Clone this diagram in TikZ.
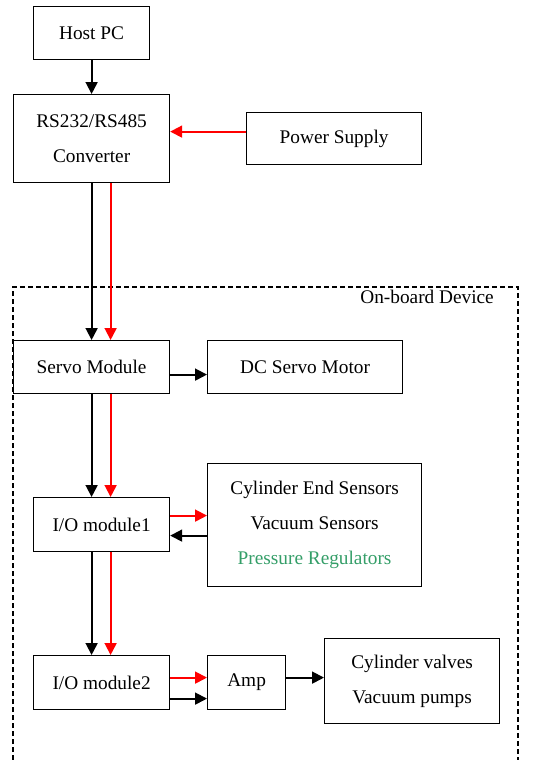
\documentclass[tikz,border=0pt]{standalone}
\usepackage{fontspec}
\setmainfont{Liberation Serif}
\usepackage{tikz}
\usetikzlibrary{arrows.meta}
\usetikzlibrary{calc}
\definecolor{regulgreen}{RGB}{52,158,104}
\tikzstyle{block} = [draw,rectangle,line width=1.2pt,anchor=north west,inner sep=0pt,align=center]
\tikzstyle{connector} = [-{Triangle[length=12pt,width=12pt]},line width=1.8pt]
\tikzstyle{power} = [connector,red]
\tikzstyle{boundary} = [line width=1.2pt,dash pattern=on 5pt off 3pt]

\begin{document}
\begin{tikzpicture}[x=1pt, y=-1pt, font=\fontsize{19.3}{23}\selectfont]
    \useasboundingbox (0,0) rectangle (547,760);
    % blocks, placed by their top left corners
    \node[block,minimum width=116pt,minimum height=53pt] (host) at (33,6) {Host PC};
    \node[block,minimum width=156pt,minimum height=88pt] (conv) at (13,94)
      {RS232/RS485\\[12pt]Converter};
    \node[block,minimum width=175pt,minimum height=52pt] (supply) at (246,112) {Power Supply};
    \node[block,minimum width=156pt,minimum height=53pt] (servo) at (13,340) {Servo Module};
    \node[block,minimum width=195pt,minimum height=53pt] (motor) at (207,340) {DC Servo Motor};
    \node[block,minimum width=136pt,minimum height=54pt] (io1) at (33,497) {I/O module1};
    \node[block,minimum width=214pt,minimum height=123pt] (sensors) at (207,463)
      {Cylinder End Sensors\\[12pt]Vacuum Sensors\\[12pt]\textcolor{regulgreen}{Pressure Regulators}};
    \node[block,minimum width=136pt,minimum height=54pt] (io2) at (33,655) {I/O module2};
    \node[block,minimum width=78pt,minimum height=54pt] (amp) at (207,655) {Amp};
    \node[block,minimum width=175pt,minimum height=85pt] (valves) at (324,638)
      {Cylinder valves\\[12pt]Vacuum pumps};

    % on-board boundary, open at the bottom
    \coordinate (bl) at (13,760);
    \coordinate (tl) at (13,287);
    \coordinate (tr) at (518,287);
    \coordinate (br) at (518,760);
    \draw[boundary] (bl) -- (tl) -- (tr) -- (br);
    \node[anchor=north east,inner sep=0pt] (onboard) at ([xshift=-24pt,yshift=-3pt]tr) {On-board Device};

    % data lines
    \draw[connector] (host) -- (conv);
    \draw[connector] (conv.south) -- (conv.south |- servo.north);
    \draw[connector] ([yshift=-7.5pt]servo.east) -- ([yshift=-7.5pt]servo.east -| motor.west);
    \draw[connector] (servo.south) -- (servo.south |- io1.north);
    \draw[connector] ([yshift=-11pt]io1.east -| sensors.west) -- ([yshift=-11pt]io1.east);
    \draw[connector] (io1.south -| servo.south) -- (servo.south |- io2.north);
    \draw[connector] ([yshift=-16pt]io2.east) -- ([yshift=-16pt]io2.east -| amp.west);
    \draw[connector] ([yshift=5pt]amp.east) -- ([yshift=5pt]amp.east -| valves.west);

    % power lines
    \draw[power] ([yshift=7pt]supply.west) -- ([yshift=7pt]supply.west -| conv.east);
    \draw[power] ([xshift=19pt]conv.south) -- ([xshift=19pt]conv.south |- servo.north);
    \draw[power] ([xshift=19pt]servo.south) -- ([xshift=19pt]servo.south |- io1.north);
    \draw[power] ([yshift=9pt]io1.east) -- ([yshift=9pt]io1.east -| sensors.west);
    \draw[power] ([xshift=19pt]servo.south |- io1.south) -- ([xshift=19pt]servo.south |- io2.north);
    \draw[power] ([yshift=5pt]io2.east) -- ([yshift=5pt]io2.east -| amp.west);
\end{tikzpicture}
\end{document}
